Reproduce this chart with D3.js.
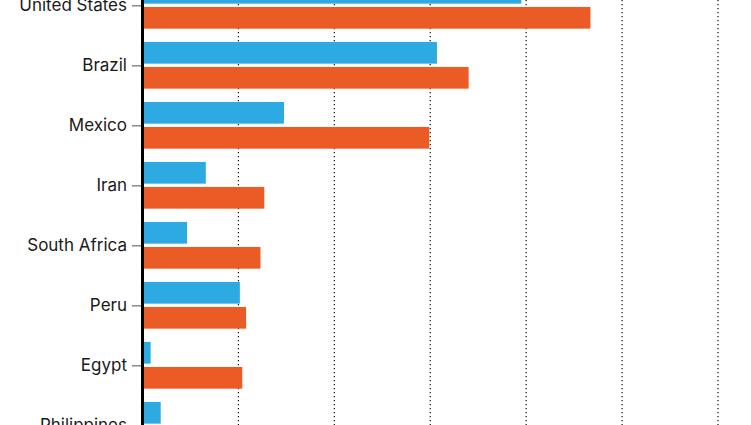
<!DOCTYPE html>
<html>
<head>
<meta charset="utf-8">
<script src="https://cdn.jsdelivr.net/npm/d3@7"></script>
<style>
  html, body { margin: 0; padding: 0; background: #fff; }
  svg { display: block; }
</style>
</head>
<body>
<svg id="chart" width="751" height="425"></svg>
<script>
const categories = ["United States", "Brazil", "Mexico", "Iran", "South Africa", "Peru", "Egypt", "Philippines"];
const seriesNames = ["first", "second"];
const firstValues = [395, 307, 147.5, 66, 46.5, 101.5, 8.5, 19];
const secondValues = [467, 340, 299, 127, 123, 108, 104, 0];
const gridTicks = [0, 100, 200, 300, 400, 500, 600];
const colors = ["#2eaae2", "#eb5b25"];

const svg = d3.select("#chart");
const x = d3.scaleLinear().domain([0, 600]).range([142.5, 718]);
const y = d3.scaleBand().domain(categories).range([-24.7, 455.3]).padding(0);
const ySub = d3.scaleBand().domain(seriesNames).range([6.65, 53.35]).paddingInner(0.132);

// gridlines
svg.append("g").selectAll("line").data(gridTicks.filter(d => d > 0)).join("line")
  .attr("x1", d => x(d)).attr("x2", d => x(d))
  .attr("y1", 0).attr("y2", 425)
  .attr("stroke", "#111").attr("stroke-width", 1.2)
  .attr("stroke-dasharray", "1.2,2.8");

// bars
const rows = categories.map((c, i) => ({ c, vals: [firstValues[i], secondValues[i]] }));
const g = svg.append("g").selectAll("g").data(rows).join("g")
  .attr("transform", d => `translate(0,${y(d.c)})`);
g.selectAll("rect").data(d => d.vals.map((v, j) => ({ v, s: seriesNames[j], j }))).join("rect")
  .filter(d => d.v > 0)
  .attr("x", x(0) + 1.5)
  .attr("y", d => ySub(d.s))
  .attr("width", d => Math.max(0, x(d.v) - x(0) - 1.5))
  .attr("height", ySub.bandwidth())
  .attr("fill", d => colors[d.j]);

// y axis
const yAxis = d3.axisLeft(d3.scalePoint().domain(categories).range([y(categories[0]) + 30, y(categories[categories.length - 1]) + 30]))
  .tickSize(9).tickPadding(5);
const ax = svg.append("g").attr("transform", `translate(${x(0) - 1.5},0)`).call(yAxis);
ax.select(".domain").remove();
ax.selectAll(".tick line").attr("stroke", "#8a8a8a").attr("stroke-width", 1.5);
ax.selectAll(".tick text")
  .attr("fill", "#1a1a1a")
  .style("font-family", "Inter, Roboto, sans-serif")
  .style("font-size", "17px");

svg.append("line")
  .attr("x1", x(0)).attr("x2", x(0))
  .attr("y1", 0).attr("y2", 425)
  .attr("stroke", "#000").attr("stroke-width", 3);
</script>
</body>
</html>
